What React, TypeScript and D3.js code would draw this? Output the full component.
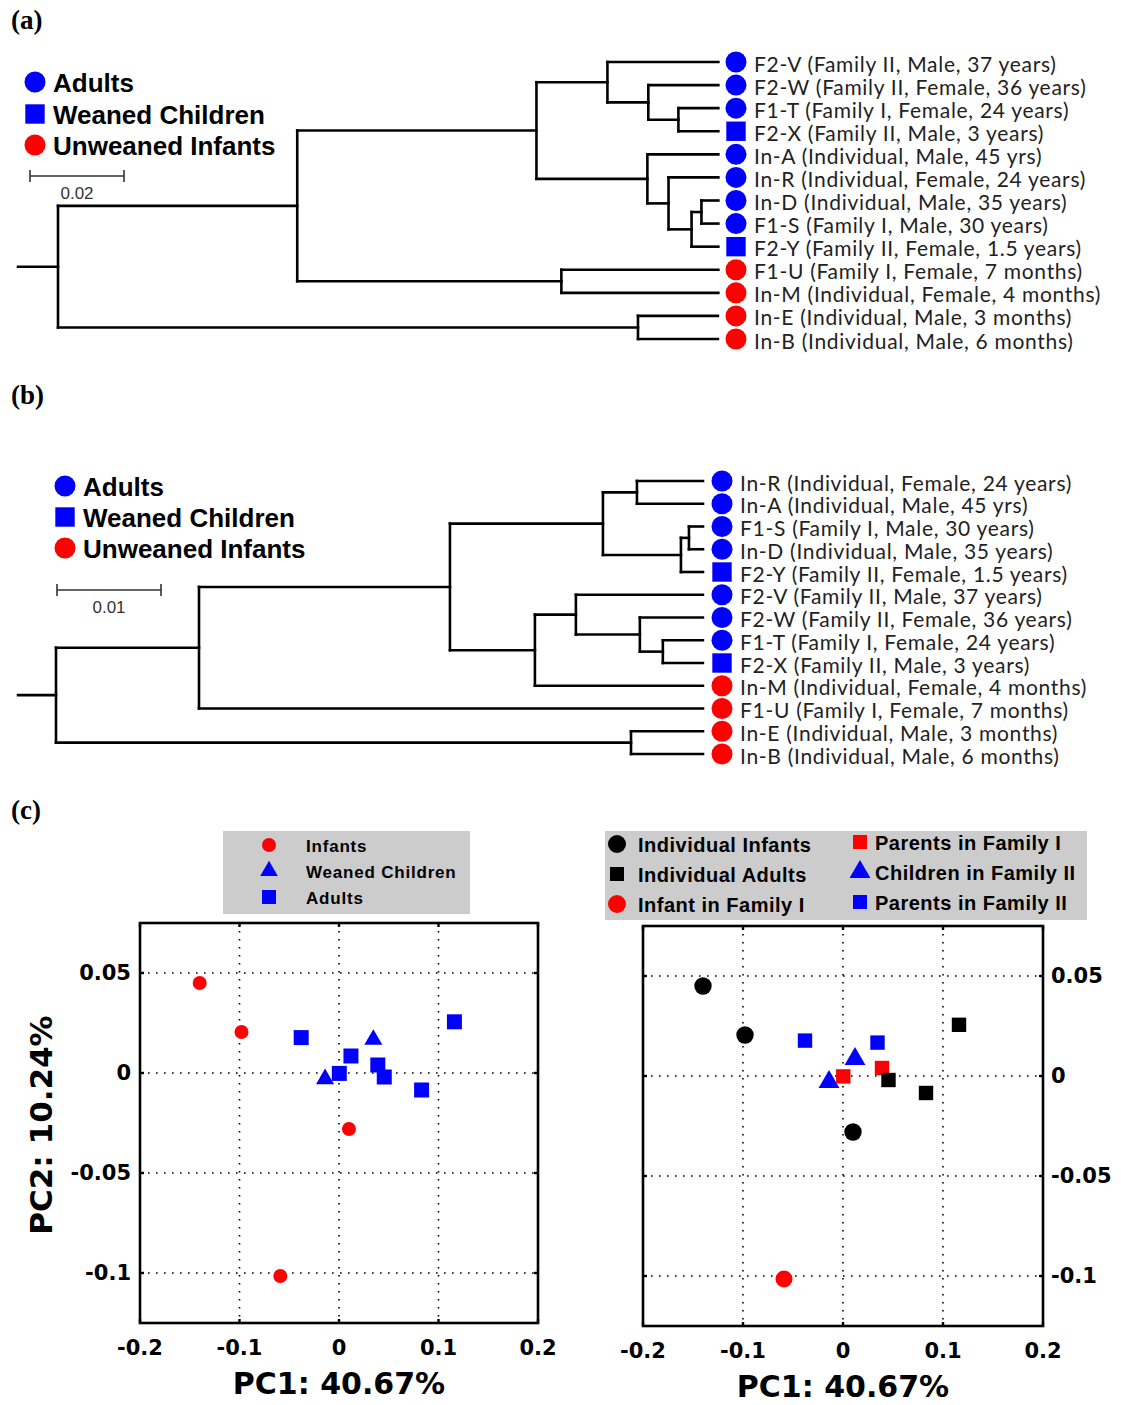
import React, { useMemo } from "react";
import * as d3 from "d3";

// ---------- samples (shared by both trees) ----------
const sampleIds = ["F2-V", "F2-W", "F1-T", "F2-X", "In-A", "In-R", "In-D", "F1-S", "F2-Y", "F1-U", "In-M", "In-E", "In-B"];
const sampleDesc = [
  "Family II, Male, 37 years",
  "Family II, Female, 36 years",
  "Family I, Female, 24 years",
  "Family II, Male, 3 years",
  "Individual, Male, 45 yrs",
  "Individual, Female, 24 years",
  "Individual, Male, 35 years",
  "Family I, Male, 30 years",
  "Family II, Female, 1.5 years",
  "Family I, Female, 7 months",
  "Individual, Female, 4 months",
  "Individual, Male, 3 months",
  "Individual, Male, 6 months",
];
const sampleGroup = [
  "Adults", "Adults", "Adults", "Weaned Children", "Adults", "Adults", "Adults", "Adults",
  "Weaned Children", "Unweaned Infants", "Unweaned Infants", "Unweaned Infants", "Unweaned Infants",
];
const treeLegend = ["Adults", "Weaned Children", "Unweaned Infants"];

// ---------- trees: [node, parent, branch length] ----------
type Edge = [string, string | null, number];

const treeAEdges: Edge[] = [
  ["root", null, 0],
  ["a1", "root", 0.0509],
  ["a2", "a1", 0.0509],
  ["a4", "a2", 0.0151],
  ["F2-V", "a4", 0.0236],
  ["a6", "a4", 0.0087],
  ["F2-W", "a6", 0.0149],
  ["a7", "a6", 0.0064],
  ["F1-T", "a7", 0.0085],
  ["F2-X", "a7", 0.0085],
  ["a5", "a2", 0.0236],
  ["In-A", "a5", 0.0151],
  ["a8", "a5", 0.0045],
  ["In-R", "a8", 0.0106],
  ["a9", "a8", 0.0049],
  ["a11", "a9", 0.0021],
  ["In-D", "a11", 0.0036],
  ["F1-S", "a11", 0.0036],
  ["F2-Y", "a9", 0.0057],
  ["a3", "a1", 0.0562],
  ["F1-U", "a3", 0.0334],
  ["In-M", "a3", 0.0334],
  ["a10", "root", 0.1234],
  ["In-E", "a10", 0.017],
  ["In-B", "a10", 0.017],
];

const treeBEdges: Edge[] = [
  ["root", null, 0],
  ["b1", "root", 0.01375],
  ["b2", "b1", 0.02413],
  ["b3", "b2", 0.01471],
  ["b4", "b3", 0.00327],
  ["In-R", "b4", 0.00635],
  ["In-A", "b4", 0.00635],
  ["b5", "b3", 0.0075],
  ["b6", "b5", 0.00077],
  ["F1-S", "b6", 0.00135],
  ["In-D", "b6", 0.00135],
  ["F2-Y", "b5", 0.00212],
  ["b7", "b2", 0.00817],
  ["b8", "b7", 0.00394],
  ["F2-V", "b8", 0.01221],
  ["b9", "b8", 0.00615],
  ["F2-W", "b9", 0.00606],
  ["b10", "b9", 0.00221],
  ["F1-T", "b10", 0.00385],
  ["F2-X", "b10", 0.00385],
  ["In-M", "b7", 0.01615],
  ["F1-U", "b1", 0.04846],
  ["b11", "root", 0.05529],
  ["In-E", "b11", 0.00692],
  ["In-B", "b11", 0.00692],
];

// ---------- PCA ----------
const pc1 = [-0.14, -0.098, 0.01, -0.059, -0.038, 0.0345, 0.012, -0.014, 0.0003, 0.039, 0.0455, 0.083, 0.116];
const pc2 = [0.045, 0.0205, -0.028, -0.1015, 0.0177, 0.0167, 0.0085, -0.003, -0.0002, 0.004, -0.002, -0.0085, 0.0256];
const groupsLeft = [
  "Infants", "Infants", "Infants", "Infants", "Adults", "Weaned Children", "Adults",
  "Weaned Children", "Adults", "Adults", "Adults", "Adults", "Adults",
];
const groupsRight = [
  "Individual Infants", "Individual Infants", "Individual Infants", "Infant in Family I",
  "Parents in Family II", "Parents in Family II", "Children in Family II", "Children in Family II",
  "Parents in Family I", "Parents in Family I", "Individual Adults", "Individual Adults", "Individual Adults",
];
const legendLeft = ["Infants", "Weaned Children", "Adults"];
const legendRight1 = ["Individual Infants", "Individual Adults", "Infant in Family I"];
const legendRight2 = ["Parents in Family I", "Children in Family II", "Parents in Family II"];
const xTicks = [-0.2, -0.1, 0, 0.1, 0.2];
const yTicks = [0.05, 0, -0.05, -0.1];

// ---------- styles ----------
const BLUE = "#0000ff";
const RED = "#ff0000";
const BLACK = "#000000";
const LEAF_FONT = "Lato, 'Open Sans', sans-serif";
const BOLD_FONT = "'Liberation Sans', Arial, sans-serif";
const AXIS_FONT = "'DejaVu Sans', sans-serif";

const treeStyle: Record<string, { shape: string; color: string }> = {
  Adults: { shape: "circle", color: BLUE },
  "Weaned Children": { shape: "square", color: BLUE },
  "Unweaned Infants": { shape: "circle", color: RED },
};
const leftStyle: Record<string, { shape: string; color: string }> = {
  Infants: { shape: "circle", color: RED },
  "Weaned Children": { shape: "triangle", color: BLUE },
  Adults: { shape: "square", color: BLUE },
};
const rightStyle: Record<string, { shape: string; color: string }> = {
  "Individual Infants": { shape: "circle", color: BLACK },
  "Individual Adults": { shape: "square", color: BLACK },
  "Infant in Family I": { shape: "circle", color: RED },
  "Parents in Family I": { shape: "square", color: RED },
  "Children in Family II": { shape: "triangle", color: BLUE },
  "Parents in Family II": { shape: "square", color: BLUE },
};

function Marker({ shape, color, x, y, r }: { shape: string; color: string; x: number; y: number; r: number }) {
  let type: d3.SymbolType = d3.symbolCircle;
  let size = Math.PI * r * r;
  if (shape === "square") {
    type = d3.symbolSquare;
    size = (2 * r) * (2 * r);
  } else if (shape === "triangle") {
    type = d3.symbolTriangle;
    size = (Math.sqrt(3) / 4) * (2.2 * r) * (2.2 * r);
  }
  const d = d3.symbol(type, size)() || "";
  return <path d={d} transform={`translate(${x},${y})`} fill={color} />;
}

function Tree({
  edges, x, yRange, stub, markerX, labelX, legendX, legendY, bar,
}: {
  edges: Edge[];
  x: d3.ScaleLinear<number, number>;
  yRange: [number, number];
  stub: number;
  markerX: number;
  labelX: number;
  legendX: number;
  legendY: number[];
  bar: { x: number; y: number; value: number; label: string };
}) {
  const nodes = useMemo(() => {
    const root = d3.stratify<Edge>().id((d) => d[0]).parentId((d) => d[1])(edges) as any;
    root.eachBefore((n: any) => {
      n.dist = (n.parent ? n.parent.dist : 0) + n.data[2];
    });
    const leaves = root.leaves();
    const y = d3.scalePoint<string>().domain(leaves.map((l: any) => l.id)).range(yRange);
    root.eachAfter((n: any) => {
      n.px = x(n.dist);
      n.py = n.children ? (n.children[0].py + n.children[n.children.length - 1].py) / 2 : (y(n.id) as number);
    });
    return { root, leaves: leaves as any[], all: root.descendants() as any[] };
  }, [edges, x, yRange]);

  const barLen = x(bar.value) - x(0);
  return (
    <g>
      <g stroke="#000" strokeWidth={2.6} fill="none" strokeLinecap="square">
        <path d={`M${x(-stub)},${nodes.root.py}H${nodes.root.px}`} />
        {nodes.all.map((n) => (
          <g key={n.id}>
            {n.parent && <path d={`M${n.parent.px},${n.py}H${n.px}`} />}
            {n.children && (
              <path d={`M${n.px},${n.children[0].py}V${n.children[n.children.length - 1].py}`} />
            )}
          </g>
        ))}
      </g>
      {nodes.leaves.map((n) => {
        const i = sampleIds.indexOf(n.id);
        const st = treeStyle[sampleGroup[i]];
        return (
          <g key={n.id}>
            <Marker shape={st.shape} color={st.color} x={markerX} y={n.py} r={st.shape === "square" ? 9.7 : 10.5} />
            <text
              x={labelX}
              y={n.py + 1}
              dominantBaseline="central"
              fontFamily={LEAF_FONT}
              fontSize={21}
              letterSpacing={0.7}
              fill="#222"
            >
              {`${n.id} (${sampleDesc[i]})`}
            </text>
          </g>
        );
      })}
      {treeLegend.map((g, i) => {
        const st = treeStyle[g];
        return (
          <g key={g}>
            <Marker shape={st.shape} color={st.color} x={legendX} y={legendY[i]} r={st.shape === "square" ? 9.7 : 10.5} />
            <text x={legendX + 18} y={legendY[i] + 1} dominantBaseline="central" fontFamily={BOLD_FONT} fontWeight="bold" fontSize={26} fill="#000">
              {g}
            </text>
          </g>
        );
      })}
      <g stroke="#333" strokeWidth={1.6}>
        <line x1={bar.x} x2={bar.x + barLen} y1={bar.y} y2={bar.y} />
        <line x1={bar.x} x2={bar.x} y1={bar.y - 6} y2={bar.y + 6} />
        <line x1={bar.x + barLen} x2={bar.x + barLen} y1={bar.y - 6} y2={bar.y + 6} />
      </g>
      <text x={bar.x + barLen / 2} y={bar.y + 17} dominantBaseline="central" textAnchor="middle" fontFamily={BOLD_FONT} fontSize={17} fill="#333">
        {bar.label}
      </text>
    </g>
  );
}

function Scatter({
  x, y, groups, styles, sizeScale, yLabelSide,
}: {
  x: d3.ScaleLinear<number, number>;
  y: d3.ScaleLinear<number, number>;
  groups: string[];
  styles: Record<string, { shape: string; color: string }>;
  sizeScale: (shape: string, color: string) => number;
  yLabelSide: "left" | "right";
}) {
  const [x0, x1] = x.range();
  const [y0, y1] = y.range(); // y0 bottom, y1 top
  const fmt = (v: number) => String(v);
  return (
    <g>
      <rect x={x0} y={y1} width={x1 - x0} height={y0 - y1} fill="#fff" />
      <g stroke="#000" strokeWidth={1.6} strokeDasharray="1.6,6.4">
        {xTicks.filter((t) => t > -0.2 && t < 0.2).map((t) => (
          <line key={t} x1={x(t)} x2={x(t)} y1={y1} y2={y0} />
        ))}
        {yTicks.map((t) => (
          <line key={t} x1={x0} x2={x1} y1={y(t)} y2={y(t)} />
        ))}
      </g>
      <g stroke="#000" strokeWidth={2.4}>
        {xTicks.map((t) => (
          <g key={t}>
            <line x1={x(t)} x2={x(t)} y1={y1} y2={y1 + 4} />
            <line x1={x(t)} x2={x(t)} y1={y0} y2={y0 - 4} />
          </g>
        ))}
        {yTicks.map((t) => (
          <g key={t}>
            <line x1={x0} x2={x0 + 4} y1={y(t)} y2={y(t)} />
            <line x1={x1} x2={x1 - 4} y1={y(t)} y2={y(t)} />
          </g>
        ))}
      </g>
      {pc1.map((v, i) => {
        const st = styles[groups[i]];
        return <Marker key={i} shape={st.shape} color={st.color} x={x(v)} y={y(pc2[i])} r={sizeScale(st.shape, st.color)} />;
      })}
      <rect x={x0} y={y1} width={x1 - x0} height={y0 - y1} fill="none" stroke="#000" strokeWidth={2.6} />
      <g fontFamily={AXIS_FONT} fontWeight="bold" fontSize={21} fill="#000">
        {xTicks.map((t) => (
          <text key={t} x={x(t)} y={y0 + 25} textAnchor="middle" dominantBaseline="central">
            {fmt(t)}
          </text>
        ))}
        {yTicks.map((t) => (
          <text
            key={t}
            x={yLabelSide === "left" ? x0 - 9 : x1 + 8}
            y={y(t)}
            textAnchor={yLabelSide === "left" ? "end" : "start"}
            dominantBaseline="central"
          >
            {fmt(t)}
          </text>
        ))}
      </g>
      <text x={(x0 + x1) / 2} y={y0 + 60} textAnchor="middle" dominantBaseline="central" fontFamily={AXIS_FONT} fontWeight="bold" fontSize={30}>
        PC1: 40.67%
      </text>
    </g>
  );
}

export default function App() {
  const xa = useMemo(() => d3.scaleLinear().domain([0, 0.02]).range([58, 152]), []);
  const xb = useMemo(() => d3.scaleLinear().domain([0, 0.01]).range([56, 160]), []);
  const yRangeA = useMemo(() => [62, 339] as [number, number], []);
  const yRangeB = useMemo(() => [481, 754] as [number, number], []);

  const sxL = d3.scaleLinear().domain([-0.2, 0.2]).range([140, 538]);
  const syL = d3.scaleLinear().domain([-0.125, 0.075]).range([1323, 923]);
  const sxR = d3.scaleLinear().domain([-0.2, 0.2]).range([643, 1043]);
  const syR = d3.scaleLinear().domain([-0.125, 0.075]).range([1326, 926]);

  return (
    <svg width={1121} height={1405} style={{ position: "absolute", left: 0, top: 0, background: "#fff" }}>
      <rect width={1121} height={1405} fill="#fff" />
      <g fontFamily="'Liberation Serif', 'Times New Roman', serif" fontWeight="bold" fontSize={27} fill="#000">
        <text x={11} y={29}>(a)</text>
        <text x={11} y={404}>(b)</text>
        <text x={11} y={819}>(c)</text>
      </g>

      <Tree
        edges={treeAEdges}
        x={xa}
        yRange={yRangeA}
        stub={0.0085}
        markerX={736}
        labelX={754}
        legendX={35}
        legendY={[82, 114, 145]}
        bar={{ x: 30, y: 176, value: 0.02, label: "0.02" }}
      />
      <Tree
        edges={treeBEdges}
        x={xb}
        yRange={yRangeB}
        stub={0.00365}
        markerX={722}
        labelX={740}
        legendX={65}
        legendY={[486, 517, 548]}
        bar={{ x: 57, y: 590, value: 0.01, label: "0.01" }}
      />

      {/* (c) left legend */}
      <rect x={223} y={831} width={247} height={83} fill="#cccccc" />
      {legendLeft.map((g, i) => {
        const st = leftStyle[g];
        const yy = 845 + i * 26;
        return (
          <g key={g}>
            <Marker shape={st.shape} color={st.color} x={269} y={yy} r={st.shape === "circle" ? 7 : st.shape === "square" ? 7 : 8} />
            <text x={306} y={yy + 1} dominantBaseline="central" fontFamily={BOLD_FONT} fontWeight="bold" fontSize={17} letterSpacing={0.8}>
              {g}
            </text>
          </g>
        );
      })}
      <Scatter
        x={sxL}
        y={syL}
        groups={groupsLeft}
        styles={leftStyle}
        sizeScale={(s) => (s === "circle" ? 7 : s === "square" ? 7.5 : 8.2)}
        yLabelSide="left"
      />
      <text
        transform="translate(52,1125) rotate(-90)"
        textAnchor="middle"
        fontFamily={AXIS_FONT}
        fontWeight="bold"
        fontSize={31}
      >
        PC2: 10.24%
      </text>

      {/* (c) right legend */}
      <rect x={605} y={831} width={482} height={89} fill="#cccccc" />
      {legendRight1.map((g, i) => {
        const st = rightStyle[g];
        const yy = 844 + i * 30;
        return (
          <g key={g}>
            <Marker shape={st.shape} color={st.color} x={617} y={yy} r={st.shape === "circle" ? 9 : 7} />
            <text x={638} y={yy + 1} dominantBaseline="central" fontFamily={BOLD_FONT} fontWeight="bold" fontSize={20} letterSpacing={0.5}>
              {g}
            </text>
          </g>
        );
      })}
      {legendRight2.map((g, i) => {
        const st = rightStyle[g];
        const yy = 842 + i * 30;
        return (
          <g key={g}>
            <Marker shape={st.shape} color={st.color} x={860} y={yy} r={st.shape === "triangle" ? 9.5 : 7} />
            <text x={875} y={yy + 1} dominantBaseline="central" fontFamily={BOLD_FONT} fontWeight="bold" fontSize={20} letterSpacing={0.5}>
              {g}
            </text>
          </g>
        );
      })}
      <Scatter
        x={sxR}
        y={syR}
        groups={groupsRight}
        styles={rightStyle}
        sizeScale={(s, c) => (s === "circle" ? (c === RED ? 8.5 : 8.7) : s === "square" ? 7.2 : 9.5)}
        yLabelSide="right"
      />
    </svg>
  );
}
